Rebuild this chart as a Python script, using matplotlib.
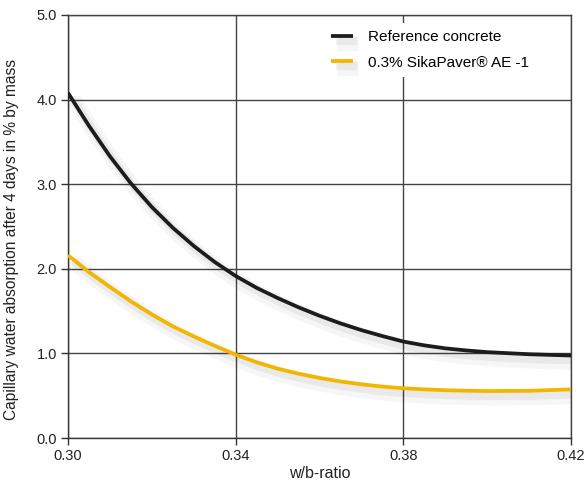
import matplotlib
matplotlib.use('Agg')
from matplotlib import pyplot as plt
import matplotlib.patheffects as pe

# data
wb_ratio = [0.300, 0.305, 0.310, 0.315, 0.320, 0.325, 0.330, 0.335, 0.340, 0.345,
            0.350, 0.355, 0.360, 0.365, 0.370, 0.375, 0.380, 0.385, 0.390, 0.395,
            0.400, 0.410, 0.420]
reference = [4.08, 3.69, 3.33, 3.01, 2.73, 2.485, 2.27, 2.08, 1.915, 1.775,
             1.655, 1.545, 1.445, 1.355, 1.275, 1.205, 1.14, 1.095, 1.06, 1.035,
             1.015, 0.99, 0.975]
sikapaver = [2.16, 1.96, 1.785, 1.615, 1.46, 1.32, 1.20, 1.09, 0.985, 0.895,
             0.82, 0.76, 0.71, 0.668, 0.635, 0.608, 0.588, 0.575, 0.565, 0.559,
             0.555, 0.558, 0.575]

series_names = ['Reference concrete', '0.3% SikaPaver® AE -1']
xticks = [0.30, 0.34, 0.38, 0.42]
yticks = [0.0, 1.0, 2.0, 3.0, 4.0, 5.0]

plt.rcParams['font.family'] = ['Liberation Sans', 'DejaVu Sans']

fig = plt.figure(figsize=(5.87, 4.84), dpi=100)
ax = fig.add_axes([68/587, 1 - 438/484, (571 - 68)/587, (438 - 15)/484])

shadow = [pe.SimpleLineShadow(offset=(4, -5), shadow_color='#000000', alpha=0.035, linewidth=11),
          pe.SimpleLineShadow(offset=(3, -3.5), shadow_color='#000000', alpha=0.05, linewidth=6),
          pe.Normal()]

ax.plot(wb_ratio, reference, color='#1c1c1c', lw=2.7, label=series_names[0],
        path_effects=shadow, solid_capstyle='butt', solid_joinstyle='round', zorder=5)
ax.plot(wb_ratio, sikapaver, color='#f2b600', lw=2.7, label=series_names[1],
        path_effects=shadow, solid_capstyle='butt', solid_joinstyle='round', zorder=5)

ax.set_xlim(0.30, 0.42)
ax.set_ylim(0, 5)
ax.set_xticks(xticks)
ax.set_xticklabels([f'{t:.2f}' for t in xticks])
ax.set_yticks(yticks)
ax.set_yticklabels([f'{t:.1f}' for t in yticks])

ax.grid(True, color='#444444', lw=1.0)
ax.set_axisbelow(True)
for s in ['top', 'right']:
    ax.spines[s].set_color('#444444')
    ax.spines[s].set_linewidth(1.0)
for s in ['left', 'bottom']:
    ax.spines[s].set_color('#333333')
    ax.spines[s].set_linewidth(1.0)
ax.tick_params(direction='out', length=5, width=1, color='#333333', labelsize=10.5,
               labelcolor='#222222', pad=3)

ax.set_xlabel('w/b-ratio', fontsize=11.5, color='#222222', labelpad=2)
ax.set_ylabel('Capillary water absorption after 4 days in % by mass', fontsize=11.2,
              color='#222222')
ax.yaxis.set_label_coords(-0.097, 0.47)

leg = ax.legend(loc='upper right', bbox_to_anchor=(0.947, 1.0), frameon=True, fontsize=11,
                handlelength=1.4, handletextpad=1.0, labelspacing=0.75, borderpad=0.5)
leg.get_frame().set_facecolor('white')
leg.get_frame().set_edgecolor('none')
leg.get_frame().set_alpha(1)

fig.savefig('out.png', dpi=100)
